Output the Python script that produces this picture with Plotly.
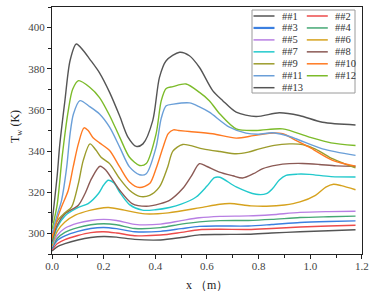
import plotly.graph_objects as go

names = ["##1", "##2", "##3", "##4", "##5", "##6", "##7", "##8", "##9", "##10", "##11", "##12", "##13"]
colors = ["#555555", "#ec4b4b", "#3b7fe0", "#45a874", "#b87fe3", "#d6a21e", "#22c9cc",
          "#8b5a55", "#9c9c2c", "#ff7a22", "#6a9fd8", "#7cbb2a", "#555555"]

x1 = [0, 0.02, 0.05, 0.1, 0.15, 0.2, 0.25, 0.32, 0.42, 0.5, 0.57, 0.65, 0.76, 0.85, 0.96, 1.07, 1.175]
y1 = [291.5, 293.5, 295, 296.8, 298, 298.5, 298.2, 297.1, 296.8, 298, 299.3, 299.5, 299.6, 300.2, 300.8, 301.3, 301.8]
y2 = [292, 295, 297, 299, 300.4, 300.8, 300.2, 298.9, 299.2, 300.5, 301.8, 302, 301.9, 302.4, 303.1, 303.6, 304]
y3 = [292.5, 296.5, 298.8, 301, 302.4, 302.9, 302.3, 300.8, 301, 302.3, 303.4, 303.6, 303.6, 304.3, 305.3, 305.8, 306.1]
y4 = [293, 297.5, 300.5, 302.8, 304.2, 304.7, 304.2, 302.4, 302.8, 304.5, 305.6, 306.2, 306.3, 306.8, 307.7, 308.1, 308.4]
y5 = [293.5, 299, 302.5, 305, 306.3, 306.8, 306.3, 304.4, 304.5, 306.2, 307.6, 308.3, 308.5, 309.1, 310.2, 310.6, 310.8]

x6 = [0, 0.02, 0.05, 0.09, 0.15, 0.2, 0.22, 0.28, 0.36, 0.45, 0.57, 0.65, 0.69, 0.77, 0.83, 0.9, 0.96, 1.02, 1.06, 1.09, 1.12, 1.175]
y6 = [294, 301, 305.5, 308.9, 311.3, 312.5, 312.6, 311.3, 309.5, 310, 312.4, 314.2, 314.5, 313.4, 313.2, 313.8, 315.3, 318.5, 322.5, 323.9, 323.2, 321.2]

x7 = [0, 0.02, 0.05, 0.1, 0.14, 0.18, 0.2, 0.218, 0.24, 0.262, 0.3, 0.35, 0.4, 0.455, 0.5, 0.558, 0.6, 0.629, 0.65,
      0.713, 0.79, 0.83, 0.854, 0.88, 0.906, 0.95, 0.996, 1.08, 1.175]
y7 = [295, 303, 308.5, 312.5, 314.5, 319.4, 323.5, 325.8, 324.5, 320, 314, 311.3, 311.5, 312.6, 314.2, 317.7, 323, 327.1, 327.3,
      322.6, 319, 319.3, 321.8, 326, 328.2, 328.8, 328.7, 327.6, 327.4]

x8 = [0, 0.02, 0.05, 0.102, 0.128, 0.153, 0.186, 0.21, 0.24, 0.262, 0.31, 0.365, 0.42, 0.455, 0.506, 0.54, 0.571, 0.6,
      0.648, 0.7, 0.738, 0.78, 0.816, 0.87, 0.919, 0.97, 1.034, 1.1, 1.175]
y8 = [296, 304, 309.5, 313.7, 319.4, 326.6, 332.6, 330.5, 325, 321, 314.5, 313.2, 314.5, 316.1, 321.8, 328, 333.9, 332.5,
      329.8, 328, 326.9, 329, 331.5, 333.2, 333.9, 334, 333.5, 332.8, 332.6]

x9 = [0, 0.02, 0.05, 0.076, 0.102, 0.121, 0.147, 0.17, 0.19, 0.223, 0.262, 0.3, 0.339, 0.378, 0.416, 0.448, 0.468, 0.506,
      0.584, 0.65, 0.713, 0.76, 0.803, 0.86, 0.919, 0.97, 1.02, 1.073, 1.12, 1.175]
y9 = [297, 306, 310, 312.9, 324.2, 335.5, 343.5, 340.5, 337, 333.9, 326.6, 321, 318, 318.5, 322.6, 332.3, 340, 343.2,
      341.1, 339.8, 338.7, 339.5, 341.1, 342.8, 343.5, 343.2, 341, 337.1, 334.5, 331.8]

x10 = [0, 0.02, 0.037, 0.063, 0.082, 0.102, 0.124, 0.14, 0.159, 0.184, 0.223, 0.262, 0.3, 0.339, 0.378, 0.403, 0.429,
       0.45, 0.47, 0.49, 0.532, 0.622, 0.713, 0.78, 0.841, 0.893, 0.94, 0.996, 1.086, 1.175]
y10 = [298, 307, 312.9, 321, 332.3, 343.5, 351.3, 350, 346.5, 344, 340.3, 332.3, 325, 322.3, 324.2, 331.5, 341.5,
       348.5, 350.3, 350, 349.5, 348.4, 346.3, 347.5, 348.7, 348.4, 345.5, 341.9, 335.5, 332.7]

x11 = [0, 0.02, 0.037, 0.057, 0.07, 0.083, 0.108, 0.146, 0.184, 0.223, 0.262, 0.3, 0.339, 0.365, 0.403, 0.423, 0.442,
       0.47, 0.532, 0.571, 0.609, 0.687, 0.751, 0.8, 0.854, 0.9, 0.944, 1.047, 1.175]
y11 = [300, 309, 316.1, 332.3, 348.4, 358, 364.5, 361.6, 358, 351.6, 341.9, 332.3, 328.5, 329, 341.9, 356, 362,
       362.8, 363.4, 361.5, 358.9, 351.6, 348.7, 348.2, 348.9, 347.8, 346, 341.1, 337.9]

x12 = [0, 0.02, 0.04, 0.063, 0.08, 0.103, 0.146, 0.184, 0.223, 0.262, 0.3, 0.339, 0.365, 0.403, 0.423, 0.442, 0.468,
       0.519, 0.571, 0.609, 0.65, 0.713, 0.79, 0.893, 0.996, 1.08, 1.175]
y12 = [302, 314, 338, 359.7, 370, 374.2, 371, 366, 357.3, 346.8, 337, 333, 334, 348.4, 364.5, 370.4, 371.3,
       372.6, 368.5, 364.5, 358, 350.8, 350, 350.8, 346.8, 344, 342.7]

x13 = [0, 0.02, 0.03, 0.05, 0.07, 0.094, 0.12, 0.146, 0.184, 0.223, 0.262, 0.294, 0.326, 0.352, 0.39, 0.416, 0.442,
       0.494, 0.532, 0.571, 0.622, 0.661, 0.713, 0.79, 0.88, 0.957, 1.047, 1.175]
y13 = [305, 328, 343, 364.5, 384, 392, 389, 384.7, 378, 368.5, 357, 346.8, 342.3, 343.5, 354.8, 375.8, 383.9,
       388, 386.3, 380.6, 369.4, 364.5, 358.9, 356.8, 358.6, 357.3, 354, 352.7]

xs = [x1, x1, x1, x1, x1, x6, x7, x8, x9, x10, x11, x12, x13]
ys = [y1, y2, y3, y4, y5, y6, y7, y8, y9, y10, y11, y12, y13]

xticks = [0.0, 0.2, 0.4, 0.6, 0.8, 1.0, 1.2]
xticklabels = ["0.0", "0.2", "0.4", "0.6", "0.8", "1.0", "1.2"]
yticks = [300, 320, 340, 360, 380, 400]

FONT = "Liberation Serif, DejaVu Serif, serif"
fig = go.Figure()
for n, c, xx, yy in zip(names, colors, xs, ys):
    fig.add_trace(go.Scatter(x=xx, y=yy, mode="lines", name=n,
                             line=dict(color=c, width=1.4, shape="spline", smoothing=0.8),
                             showlegend=False))

W, H = 373, 293
L, R, T, B = 52, 11, 7, 39
pw, ph = W - L - R, H - T - B


def px2paper(px, py):
    return (px - L) / pw, (H - B - py) / ph


# legend (manual, two columns)
bx0, by0 = px2paper(252, 10)
bx1, by1 = px2paper(355, 93)
fig.add_shape(type="rect", xref="paper", yref="paper", x0=bx0, y0=by1, x1=bx1, y1=by0,
              line=dict(color="#9a9a9a", width=1), fillcolor="white", layer="above")
for i, (n, c) in enumerate(zip(names, colors)):
    col, row = i % 2, i // 2
    lx0 = 253.5 + col * 53.3
    lx1 = lx0 + 21
    ly = 16 + row * 11.95
    a0, b0 = px2paper(lx0, ly)
    a1, _ = px2paper(lx1, ly)
    fig.add_shape(type="line", xref="paper", yref="paper", x0=a0, x1=a1, y0=b0, y1=b0,
                  line=dict(color=c, width=2.2 if i == 2 else 1.5), layer="above")
    tx, ty = px2paper(lx1 + 5, ly)
    fig.add_annotation(xref="paper", yref="paper", x=tx, y=ty, text=n, showarrow=False,
                       xanchor="left", yanchor="middle", font=dict(family=FONT, size=10.5, color="#333"))

# axis titles
ax, ay = px2paper(207, 285)
fig.add_annotation(xref="paper", yref="paper", x=ax, y=ay, text="x （m）", showarrow=False,
                   xanchor="center", yanchor="middle", font=dict(family=FONT, size=12, color="#222"))
ax, ay = px2paper(16, 127)
fig.add_annotation(xref="paper", yref="paper", x=ax, y=ay, text="T<sub>w</sub> (K)", showarrow=False,
                   textangle=-90, xanchor="center", yanchor="middle", font=dict(family=FONT, size=12, color="#222"))

axis_common = dict(showgrid=False, zeroline=False, showline=True, linecolor="#222", linewidth=1.3,
                   mirror=True, ticks="outside", ticklen=4, tickwidth=1, tickcolor="#222",
                   tickfont=dict(family=FONT, size=11, color="#444"))
fig.update_xaxes(range=[0, 1.2001], tickvals=xticks, ticktext=xticklabels, ticklabelstandoff=-2,
                 minor=dict(ticks="outside", dtick=0.1, ticklen=2.5, tickcolor="#222"),
                 **axis_common)
fig.update_yaxes(range=[290, 410], tickvals=yticks,
                 minor=dict(ticks="outside", dtick=10, ticklen=2.5, tickcolor="#222"),
                 **axis_common)
fig.update_layout(width=W, height=H, margin=dict(l=L, r=R, t=T, b=B, autoexpand=False),
                  paper_bgcolor="white", plot_bgcolor="white", showlegend=False)
fig.write_html("out.html", config={"displayModeBar": False},
               post_script="document.body.style.margin='0px';document.body.style.overflow='hidden';")
